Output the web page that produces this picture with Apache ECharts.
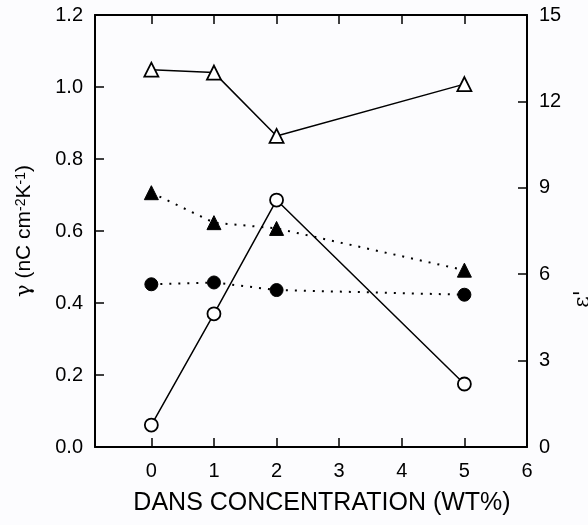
<!DOCTYPE html>
<html><head><meta charset="utf-8">
<script src="https://cdn.jsdelivr.net/npm/echarts@6/dist/echarts.min.js"></script>
<style>html,body{margin:0;padding:0;background:#fcfcfe;}#c{width:588px;height:525px;}</style>
</head><body><div id="c"></div>
<script>
const concentrations = [0, 1, 2, 5];
const xTicks = [0, 1, 2, 3, 4, 5, 6];
// gamma (left axis)
const gammaOpenCircles = [0.061, 0.370, 0.686, 0.175];
const gammaFilledCircles = [0.452, 0.457, 0.436, 0.423];
// epsilon' (right axis)
const epsOpenTriangles = [13.1, 13.0, 10.8, 12.6];
const epsFilledTriangles = [8.83, 7.79, 7.59, 6.14];

const pairs = (ys) => concentrations.map((x, i) => [x, ys[i]]);
const font = 'Liberation Sans, Arial, sans-serif';
const axisLine = {show: true, onZero: false, lineStyle: {color: '#000', width: 2}};
const tick = {show: true, inside: true, length: 9, lineStyle: {color: '#000', width: 1.5}};

const chart = echarts.init(document.getElementById('c'));
chart.setOption({
  backgroundColor: '#fcfcfe',
  animation: false,
  grid: {left: 95, right: 61, top: 15, bottom: 78, containLabel: false, outerBoundsMode: 'none'},
  xAxis: [{
    type: 'value', min: -0.9, max: 6, position: 'bottom',
    axisLine: axisLine,
    axisTick: Object.assign({customValues: xTicks}, tick),
    axisLabel: {customValues: xTicks, color: '#000', fontSize: 20, fontFamily: font, margin: 14},
    splitLine: {show: false},
    name: 'DANS CONCENTRATION (WT%)', nameLocation: 'middle', nameGap: 44,
    nameTextStyle: {color: '#000', fontSize: 25, fontFamily: font, padding: [0, 0, 0, 22]}
  }, {
    type: 'value', min: -0.9, max: 6, position: 'top',
    axisLine: axisLine,
    axisTick: Object.assign({customValues: xTicks.slice(0, 6)}, tick),
    axisLabel: {show: false},
    splitLine: {show: false}
  }],
  yAxis: [{
    type: 'value', min: 0, max: 1.2, interval: 0.2, position: 'left',
    axisLine: axisLine, axisTick: tick,
    axisLabel: {color: '#000', fontSize: 20, fontFamily: font, margin: 12, formatter: v => v.toFixed(1)},
    splitLine: {show: false},
    name: '{g|γ} (nC cm{s|-2}K{s|-1})', nameLocation: 'middle', nameRotate: 90, nameGap: 60,
    nameTextStyle: {
      color: '#000', fontSize: 21, fontFamily: font,
      rich: {
        g: {fontSize: 21, fontFamily: 'DejaVu Serif, serif', color: '#000'},
        s: {fontSize: 14, fontFamily: font, verticalAlign: 'top', color: '#000'}
      }
    }
  }, {
    type: 'value', min: 0, max: 15, interval: 3, position: 'right',
    axisLine: axisLine, axisTick: tick,
    axisLabel: {color: '#000', fontSize: 20, fontFamily: font, margin: 12},
    splitLine: {show: false},
    name: "ε'", nameLocation: 'middle', nameRotate: 90, nameGap: 38,
    nameTextStyle: {color: '#000', fontSize: 22, fontFamily: 'DejaVu Serif, serif', padding: [0, 136, 0, 0]}
  }],
  series: [{
    type: 'line', data: pairs(epsOpenTriangles), yAxisIndex: 1,
    symbol: 'triangle', symbolSize: 14,
    lineStyle: {color: '#000', width: 1.5},
    itemStyle: {color: '#fff', borderColor: '#000', borderWidth: 1.8}
  }, {
    type: 'line', data: pairs(epsFilledTriangles), yAxisIndex: 1,
    symbol: 'triangle', symbolSize: 14,
    lineStyle: {color: '#000', width: 2, type: [2, 7]},
    itemStyle: {color: '#000', borderColor: '#000', borderWidth: 1}
  }, {
    type: 'line', data: pairs(gammaFilledCircles), yAxisIndex: 0,
    symbol: 'circle', symbolSize: 13,
    lineStyle: {color: '#000', width: 2, type: [2, 7]},
    itemStyle: {color: '#000', borderColor: '#000', borderWidth: 1}
  }, {
    type: 'line', data: pairs(gammaOpenCircles), yAxisIndex: 0,
    symbol: 'circle', symbolSize: 13,
    lineStyle: {color: '#000', width: 1.5},
    itemStyle: {color: '#fff', borderColor: '#000', borderWidth: 1.8}
  }]
});
</script></body></html>
